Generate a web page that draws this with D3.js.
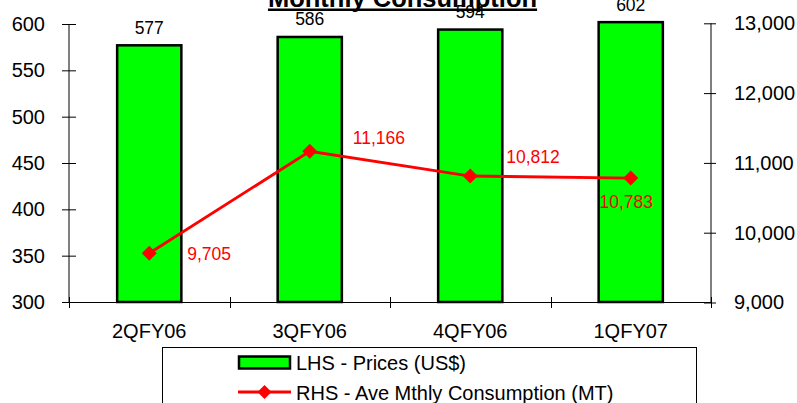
<!DOCTYPE html>
<html><head><meta charset="utf-8">
<script src="https://cdn.jsdelivr.net/npm/d3@7"></script>
<style>body{margin:0;background:#fff}svg{display:block;font-family:"Liberation Sans",Arial,sans-serif}</style>
</head><body><svg id="c" width="797" height="403"></svg>
<script>
const categories = ["2QFY06","3QFY06","4QFY06","1QFY07"];
const prices = [577, 586, 594, 602];
const consumption = [9705, 11166, 10812, 10783];
const leftTicks = [300,350,400,450,500,550,600];
const rightTicks = [9000,10000,11000,12000,13000];
const title = "Monthly Consumption";
const legendLabels = ["LHS - Prices (US$)", "RHS - Ave Mthly Consumption (MT)"];

const svg = d3.select("#c");
const x = d3.scaleBand().domain(categories).range([69, 711]).padding(0);
const yL = d3.scaleLinear().domain([300, 600]).range([302, 24]);
const yR = d3.scaleLinear().domain([9000, 13000]).range([302.5, 23.3]);
const fmt = d3.format(",");

// bars
const bw = x.bandwidth() * 0.4;
svg.selectAll("rect.bar").data(prices).join("rect").attr("class","bar")
  .attr("x", (d,i) => x(categories[i]) + x.bandwidth()/2 - bw/2)
  .attr("y", d => yL(d))
  .attr("width", bw)
  .attr("height", d => yL(300) - yL(d))
  .attr("fill", "#00ff00").attr("stroke", "#000").attr("stroke-width", 2.5);

svg.selectAll("text.blab").data(prices).join("text").attr("class","blab")
  .attr("x", (d,i) => x(categories[i]) + x.bandwidth()/2)
  .attr("y", d => yL(d) - 11.5)
  .attr("text-anchor","middle").attr("font-size", 17.5).attr("fill","#000")
  .text(d => d);

// axes
const axL = svg.append("g").attr("transform","translate(69,0)")
  .call(d3.axisLeft(yL).tickValues(leftTicks).tickSizeOuter(0).tickSize(7).tickPadding(17));
axL.selectAll(".tick line").attr("x1", -7).attr("x2", 7);
axL.select(".domain").attr("d", "M0,302V24");
const axR = svg.append("g").attr("transform","translate(711,0)")
  .call(d3.axisRight(yR).tickValues(rightTicks).tickSizeOuter(0).tickSize(5).tickPadding(18).tickFormat(fmt));
axR.selectAll(".tick line").attr("x1", -7).attr("x2", 5);
axR.select(".domain").attr("d", "M0,302.5V23.3");
[axL, axR].forEach(a => {
  a.selectAll("text").attr("font-size", 20).attr("fill","#000").attr("font-family", "Liberation Sans, Arial, sans-serif");
  a.selectAll("line,path").attr("stroke","#000");
});
// x axis
const gx = svg.append("g");
gx.append("line").attr("x1", 69).attr("x2", 711).attr("y1", 302.5).attr("y2", 302.5).attr("stroke","#000");
const bounds = categories.map(c => x(c)).concat([x(categories[categories.length-1]) + x.bandwidth()]);
gx.selectAll("line.xt").data(bounds).join("line").attr("class","xt")
  .attr("x1", d => Math.round(d)+0.5).attr("x2", d => Math.round(d)+0.5)
  .attr("y1", 297).attr("y2", 308).attr("stroke","#000");
gx.selectAll("text").data(categories).join("text")
  .attr("x", d => x(d) + x.bandwidth()/2).attr("y", 338)
  .attr("text-anchor","middle").attr("font-size", 20).attr("fill","#000").text(d => d);

// line series
const line = d3.line().x((d,i) => x(categories[i]) + x.bandwidth()/2).y(d => yR(d));
svg.append("path").datum(consumption).attr("d", line)
  .attr("fill","none").attr("stroke","#ff0000").attr("stroke-width", 2.8);
const diamond = r => `M0,${-r}L${r},0L0,${r}L${-r},0Z`;
svg.selectAll("path.pt").data(consumption).join("path").attr("class","pt")
  .attr("transform", (d,i) => `translate(${x(categories[i]) + x.bandwidth()/2},${yR(d)})`)
  .attr("d", diamond(7.5)).attr("fill","#ff0000");
const labOff = [[38, 6.5, "start"], [43, -7.5, "start"], [36, -13.5, "start"], [-4.5, 30, "middle"]];
svg.selectAll("text.rlab").data(consumption).join("text").attr("class","rlab")
  .attr("x", (d,i) => x(categories[i]) + x.bandwidth()/2 + labOff[i][0])
  .attr("y", (d,i) => yR(d) + labOff[i][1])
  .attr("text-anchor", (d,i) => labOff[i][2])
  .attr("font-size", 17.5).attr("fill","#ff0000").text(d => fmt(d));

// title
const t = svg.append("text").attr("x", 402.5).attr("y", 6.5).attr("text-anchor","middle")
  .attr("font-size", 25.5).attr("font-weight","bold").attr("fill","#000").text(title);
const tl = t.node().getComputedTextLength();
svg.append("rect").attr("x", 402.5 - tl/2).attr("y", 8.5).attr("width", tl).attr("height", 2.5).attr("fill","#000");

// legend
const lg = svg.append("g");
lg.append("rect").attr("x", 162.5).attr("y", 347.5).attr("width", 534).attr("height", 70)
  .attr("fill","#fff").attr("stroke","#000").attr("stroke-width",1);
lg.append("rect").attr("x", 239).attr("y", 356.5).attr("width", 51).attr("height", 12)
  .attr("fill","#00ff00").attr("stroke","#000").attr("stroke-width",2.5);
lg.append("line").attr("x1", 238).attr("x2", 291).attr("y1", 392).attr("y2", 392)
  .attr("stroke","#ff0000").attr("stroke-width",2.8);
lg.append("path").attr("transform","translate(264.5,392)").attr("d", diamond(7)).attr("fill","#ff0000");
lg.selectAll("text").data(legendLabels).join("text")
  .attr("x", 296).attr("y", (d,i) => 370 + i*29.5)
  .attr("font-size", 20).attr("fill","#000").text(d => d);
</script></body></html>
